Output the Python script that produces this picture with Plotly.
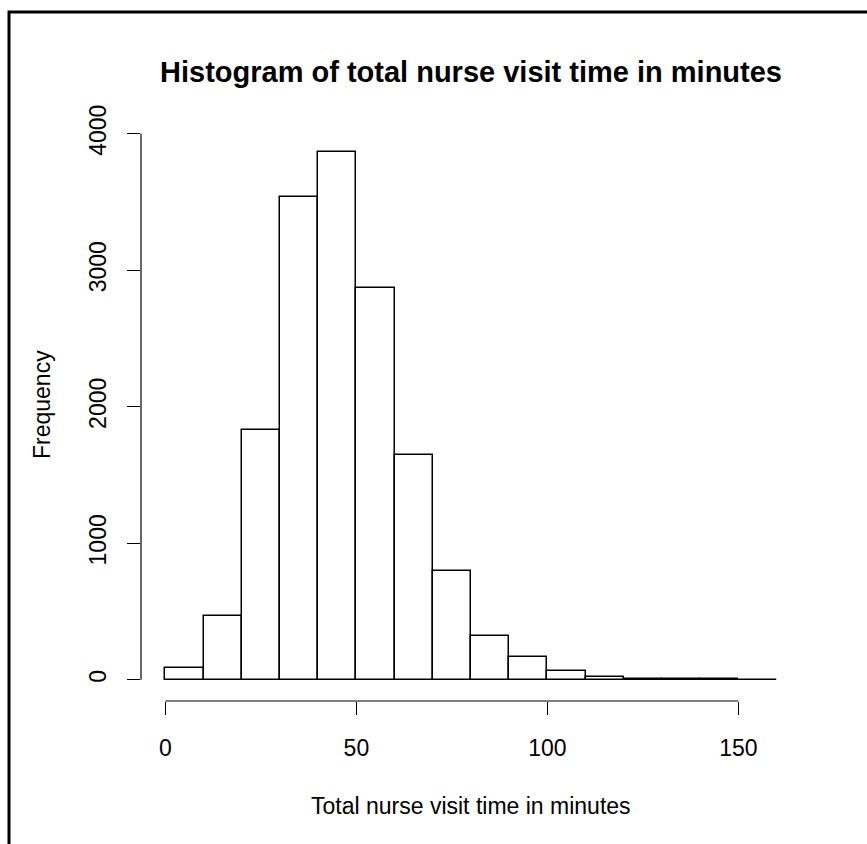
import plotly.graph_objects as go

bin_edges = [0, 10, 20, 30, 40, 50, 60, 70, 80, 90, 100, 110, 120, 130, 140, 150, 160]
counts = [86, 465, 1830, 3536, 3869, 2869, 1648, 800, 320, 164, 66, 18, 9, 7, 7, 2]
x_ticks = [0, 50, 100, 150]
y_ticks = [0, 1000, 2000, 3000, 4000]

title_text = "Histogram of total nurse visit time in minutes"
x_title = "Total nurse visit time in minutes"
y_title = "Frequency"

centers = [(a + b) / 2 for a, b in zip(bin_edges[:-1], bin_edges[1:])]
widths = [b - a for a, b in zip(bin_edges[:-1], bin_edges[1:])]

FONT = "Liberation Sans, Arial, sans-serif"

fig = go.Figure()
fig.add_trace(go.Bar(
    x=centers, y=counts, width=widths,
    marker=dict(color="white", line=dict(color="black", width=1.5)),
    hoverinfo="x+y",
))

W, H = 867, 844
L, R, T, B = 141, 66, 130, 143
pw, ph = W - L - R, H - T - B

def px_x(p):
    return (p - L) / pw

def px_y(p):
    return (H - B - p) / ph

fig.update_layout(
    width=W, height=H,
    margin=dict(l=L, r=R, t=T, b=B, pad=0),
    paper_bgcolor="white", plot_bgcolor="white",
    showlegend=False,
    bargap=0,
    font=dict(family=FONT, size=23, color="black"),
    xaxis=dict(
        range=[bin_edges[0] - 0.04 * (bin_edges[-1] - bin_edges[0]),
               bin_edges[-1] + 0.04 * (bin_edges[-1] - bin_edges[0])],
        tickmode="array", tickvals=x_ticks, ticktext=[str(v) for v in x_ticks],
        ticks="outside", ticklen=13, tickwidth=1.2, tickcolor="black",
        showline=False, showgrid=False, zeroline=False,
        tickfont=dict(family=FONT, size=23, color="black"),
        ticklabelstandoff=13,
    ),
    yaxis=dict(
        range=[-155, 4027],
        tickmode="array", tickvals=y_ticks, ticktext=[str(v) for v in y_ticks],
        tickangle=-90,
        ticks="outside", ticklen=13, tickwidth=1.2, tickcolor="black",
        showline=False, showgrid=False, zeroline=False,
        tickfont=dict(family=FONT, size=23, color="black"),
        ticklabelstandoff=12,
    ),
    shapes=[
        dict(type="line", xref="x", yref="paper", x0=x_ticks[0], x1=x_ticks[-1], y0=0, y1=0,
             line=dict(color="black", width=1.2)),
        dict(type="line", xref="paper", yref="y", x0=0, x1=0, y0=y_ticks[0], y1=y_ticks[-1],
             line=dict(color="black", width=1.2)),
        dict(type="rect", xref="paper", yref="paper",
             x0=px_x(9), x1=px_x(940), y0=px_y(12), y1=px_y(900),
             line=dict(color="black", width=3), fillcolor="rgba(0,0,0,0)"),
    ],
    annotations=[
        dict(text="<b>" + title_text + "</b>", xref="paper", yref="paper",
             x=0.5, y=px_y(72), xanchor="center", yanchor="middle",
             showarrow=False, font=dict(family=FONT, size=29, color="black")),
        dict(text=x_title, xref="paper", yref="paper",
             x=0.5, y=px_y(806), xanchor="center", yanchor="middle",
             showarrow=False, font=dict(family=FONT, size=23, color="black")),
        dict(text=y_title, xref="paper", yref="paper", textangle=-90,
             x=px_x(42), y=px_y(405), xanchor="center", yanchor="middle",
             showarrow=False, font=dict(family=FONT, size=23, color="black")),
    ],
)

fig.write_html("out.html", config={"displayModeBar": False},
               post_script="document.body.style.margin='0';document.body.style.overflow='hidden';")
